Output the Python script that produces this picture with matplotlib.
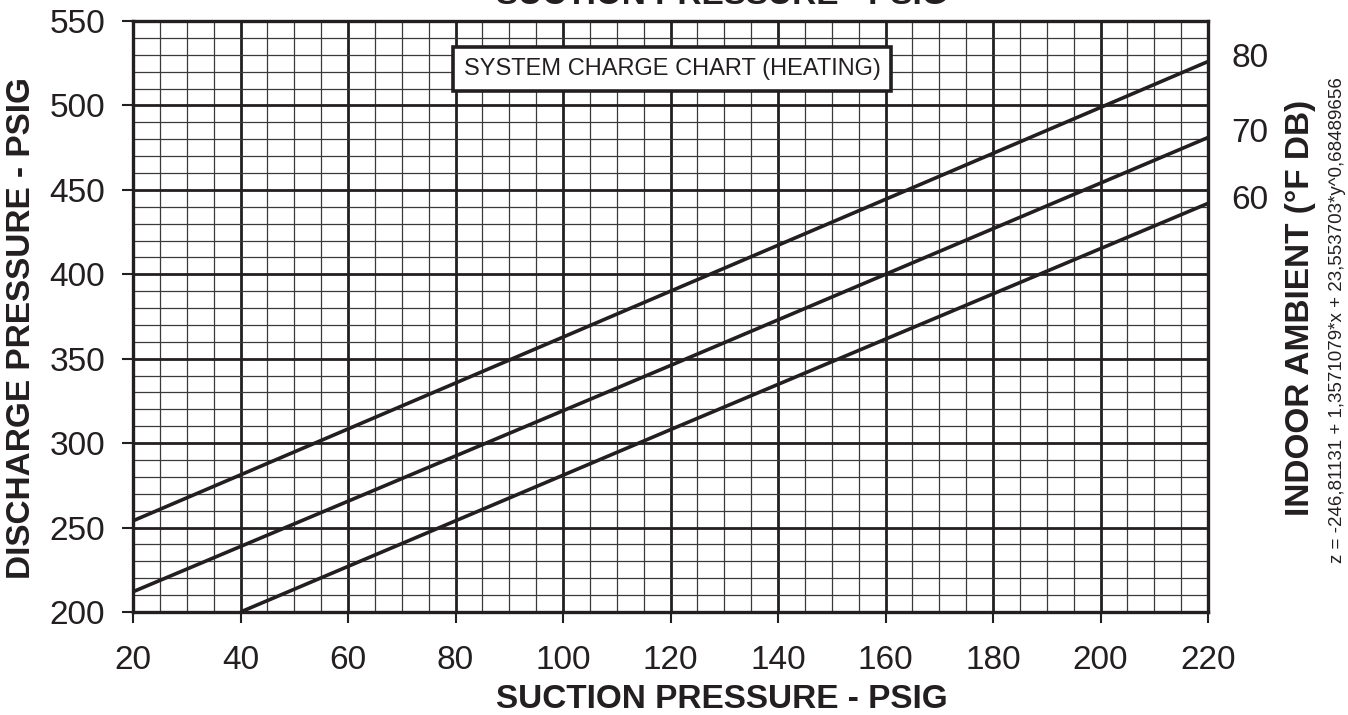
import matplotlib
matplotlib.use('Agg')
import matplotlib.pyplot as plt
import numpy as np

plt.rcParams['font.family'] = ['Liberation Sans', 'DejaVu Sans']

# data
suction_80 = [20, 120, 220]
discharge_80 = [254, 390, 526]
suction_70 = [20, 120, 220]
discharge_70 = [212, 346, 481]
suction_60 = [40, 120, 220]
discharge_60 = [200, 308, 442]

x_ticks = list(range(20, 221, 20))
y_ticks = list(range(200, 551, 50))
ambient_labels = ['80', '70', '60']
ambient_pos = [530, 485.5, 446]

ink = '#231f20'

fig = plt.figure(figsize=(13.48, 7.15), dpi=100)
ax = fig.add_axes([133/1348, 103/715, 1075/1348, 591/715])

ax.set_xlim(20, 220)
ax.set_ylim(200, 550)
ax.set_xticks(x_ticks)
ax.set_yticks(y_ticks)
ax.set_xticks(np.arange(20, 221, 5), minor=True)
ax.set_yticks(np.arange(200, 551, 10), minor=True)

ax.grid(which='major', color=ink, lw=2.0)
ax.grid(which='minor', color='#3a3a3a', lw=0.9)
ax.set_axisbelow(True)

for s in ax.spines.values():
    s.set_linewidth(2.4)
    s.set_color(ink)

ax.tick_params(which='major', direction='out', length=8, width=1.5, color=ink,
               labelsize=24, labelcolor=ink)
ax.tick_params(axis='x', which='major', pad=16)
ax.tick_params(axis='y', which='major', pad=12)
ax.tick_params(which='minor', length=0)

for xs, ys in [(suction_80, discharge_80), (suction_70, discharge_70), (suction_60, discharge_60)]:
    ax.plot(xs, ys, color=ink, lw=2.6, solid_capstyle='butt', clip_on=True)

ax.text(120.3, 521.5, 'SYSTEM CHARGE CHART (HEATING)', ha='center', va='center',
        fontsize=17, color=ink, family=['Liberation Sans Narrow', 'Liberation Sans'],
        bbox=dict(boxstyle='square,pad=0.45', fc='white', ec=ink, lw=2.6))

ax2 = ax.twinx()
ax2.set_ylim(200, 550)
ax2.set_yticks(ambient_pos)
ax2.set_yticklabels(ambient_labels)
ax2.tick_params(axis='y', length=0, pad=17, labelsize=24, labelcolor=ink)
for s in ax2.spines.values():
    s.set_visible(False)

fig.text(722/1348, 7/715, 'SUCTION PRESSURE - PSIG', ha='center', va='baseline',
         fontsize=24, fontweight='bold', color=ink)
fig.text(722/1348, 1 - 4/715, 'SUCTION PRESSURE - PSIG', ha='center', va='baseline',
         fontsize=24, fontweight='bold', color=ink)
fig.text(22/1348, 1 - 328/715, 'DISCHARGE PRESSURE - PSIG', ha='center', va='center',
         rotation=90, fontsize=24, fontweight='bold', color=ink)
fig.text(1300/1348, 1 - 308/715, 'INDOOR AMBIENT (°F DB)', ha='center', va='center',
         rotation=90, fontsize=24, fontweight='bold', color=ink)
fig.text(1337/1348, 1 - 320/715, 'z = -246,81131 + 1,3571079*x + 23,553703*y^0,68489656',
         ha='center', va='center', rotation=90, fontsize=13.5, color=ink,
         family=['Liberation Sans Narrow', 'Liberation Sans'])

fig.savefig('out.png', dpi=100)
